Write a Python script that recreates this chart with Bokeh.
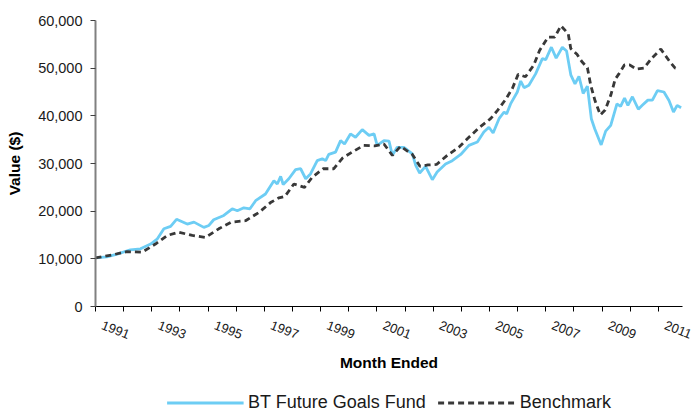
from bokeh.plotting import figure
from bokeh.layouts import column
from bokeh.models import (Range1d, FixedTicker, NumeralTickFormatter, Legend, LegendItem,
                          LinearAxis)
from bokeh.embed import file_html
from bokeh.resources import INLINE

# BT Future Goals Fund (year as decimal, value in $)
fund_year = [1991.00, 1991.40, 1991.77, 1992.24, 1992.60, 1992.96, 1993.20, 1993.43, 1993.67, 1993.88,
             1994.26, 1994.50, 1994.85, 1995.03, 1995.20, 1995.56, 1995.86, 1996.04, 1996.27, 1996.49,
             1996.69, 1997.04, 1997.34, 1997.46, 1997.58, 1997.67, 1997.87, 1998.11, 1998.29, 1998.47,
             1998.64, 1998.88, 1999.06, 1999.18, 1999.29, 1999.53, 1999.71, 1999.85, 2000.06, 2000.24,
             2000.48, 2000.72, 2000.90, 2001.01, 2001.25, 2001.43, 2001.55, 2001.72, 2001.96, 2002.26,
             2002.38, 2002.52, 2002.73, 2002.97, 2003.14, 2003.44, 2003.68, 2003.98, 2004.27, 2004.57,
             2004.80, 2004.98, 2005.13, 2005.34, 2005.52, 2005.61, 2005.75, 2005.99, 2006.11, 2006.23,
             2006.40, 2006.64, 2006.88, 2007.00, 2007.20, 2007.37, 2007.59, 2007.74, 2007.89, 2008.04,
             2008.18, 2008.33, 2008.48, 2008.62, 2008.74, 2008.97, 2009.13, 2009.31, 2009.53, 2009.66,
             2009.80, 2009.92, 2010.08, 2010.29, 2010.43, 2010.63, 2010.79, 2010.97, 2011.20, 2011.38,
             2011.54, 2011.67, 2011.81]
fund_value = [10200, 10400, 11000, 11900, 12100, 13100, 14200, 16300, 16800, 18300,
              17300, 17700, 16600, 17000, 18200, 19100, 20500, 20100, 20700, 20500,
              22200, 23600, 26400, 25700, 27300, 25600, 26800, 28700, 28900, 26800,
              27800, 30600, 31000, 30600, 31900, 32400, 34800, 34100, 36200, 35500,
              37100, 35900, 36200, 33800, 34800, 34700, 31700, 33400, 33400, 32000,
              29600, 28000, 29400, 26600, 28200, 29900, 30600, 31900, 33800, 34500,
              36600, 37600, 36400, 39400, 40800, 40400, 42500, 45000, 47300, 45900,
              46400, 48800, 52000, 51800, 54400, 52100, 54400, 53600, 48600, 46700,
              48300, 44700, 46200, 39400, 37300, 33900, 36800, 38000, 42500, 42000,
              43700, 42200, 44000, 41400, 42200, 43300, 43300, 45300, 45000, 43200,
              40800, 42200, 41700]

# Benchmark
bench_year = [1991.00, 1991.65, 1992.12, 1992.66, 1993.13, 1993.55, 1993.95, 1994.44, 1994.91, 1995.38,
              1995.82, 1996.33, 1996.80, 1997.22, 1997.52, 1997.73, 1998.05, 1998.43, 1998.70, 1999.09,
              1999.47, 1999.77, 2000.12, 2000.53, 2000.92, 2001.25, 2001.55, 2001.84, 2002.26, 2002.53,
              2002.81, 2003.12, 2003.50, 2003.91, 2004.27, 2004.63, 2005.04, 2005.28, 2005.57, 2005.81,
              2006.02, 2006.28, 2006.57, 2006.78, 2007.08, 2007.32, 2007.54, 2007.80, 2007.89, 2008.11,
              2008.28, 2008.48, 2008.60, 2008.75, 2008.94, 2009.11, 2009.31, 2009.47, 2009.60, 2009.80,
              2009.98, 2010.22, 2010.49, 2010.77, 2011.09, 2011.43, 2011.60, 2011.70]
bench_value = [10200, 10900, 11500, 11400, 13100, 14900, 15600, 14900, 14500, 16300,
               17700, 18000, 19700, 21800, 22800, 23100, 25700, 25000, 27100, 28900,
               28900, 31100, 32400, 33800, 33700, 34100, 31700, 33600, 31900, 29400,
               29700, 29800, 31700, 33400, 35500, 37500, 39400, 41100, 43400, 45700,
               48700, 48200, 50600, 53700, 56500, 56500, 58900, 57200, 54100, 52900,
               51400, 50100, 46400, 43200, 40200, 41200, 44300, 47700, 48800, 50700,
               50700, 49800, 50000, 52100, 54000, 51200, 50000, 49900]

year_ticks = list(range(1991, 2012))
label_years = list(range(1991, 2012, 2))
value_ticks = [0, 10000, 20000, 30000, 40000, 50000, 60000]
LABEL_SHIFT = 0.24  # labels start a little right of their tick

FONT = "Liberation Sans"
FUND_COLOR = "#6DCDF4"
BENCH_COLOR = "#383838"

p = figure(frame_width=587, frame_height=286, output_backend="svg", toolbar_location=None,
           x_range=Range1d(1991, 2011.86), y_range=Range1d(0, 60000),
           min_border_left=95, min_border_right=11, min_border_top=20, min_border_bottom=85)
p.outline_line_color = None
p.xgrid.visible = False
p.ygrid.visible = False

r_fund = p.line(fund_year, fund_value, line_color=FUND_COLOR, line_width=2.8)
r_bench = p.line(bench_year, bench_value, line_color=BENCH_COLOR, line_width=2.8, line_dash="6 4")

# x axis: tick marks only
xa = p.xaxis[0]
xa.ticker = FixedTicker(ticks=year_ticks)
xa.major_label_overrides = {y: "" for y in year_ticks}
xa.major_label_text_font_size = "1px"
xa.major_label_standoff = 0
xa.major_tick_in = 0
xa.major_tick_out = 5
xa.minor_tick_line_color = None
xa.axis_line_color = "#000000"
xa.axis_line_width = 1.2
xa.major_tick_line_color = "#000000"

# x axis labels (second axis, no line)
xl = LinearAxis(ticker=FixedTicker(ticks=[y + LABEL_SHIFT for y in label_years]),
                formatter=NumeralTickFormatter(format="0"))
xl.axis_line_color = None
xl.major_tick_line_color = None
xl.minor_tick_line_color = None
xl.major_tick_in = 0
xl.major_tick_out = 0
xl.major_label_orientation = -0.37
xl.major_label_text_font = FONT
xl.major_label_text_font_size = "13px"
xl.major_label_text_color = "#1a1a1a"
xl.major_label_standoff = 13
xl.axis_label = "Month Ended"
xl.axis_label_text_font = FONT
xl.axis_label_text_font_style = "bold"
xl.axis_label_text_font_size = "15.5px"
xl.axis_label_text_color = "#000000"
xl.axis_label_standoff = 8
p.add_layout(xl, "below")

# y axis
ya = p.yaxis[0]
ya.ticker = FixedTicker(ticks=value_ticks)
ya.formatter = NumeralTickFormatter(format="0,0")
ya.major_label_text_font = FONT
ya.major_label_text_font_size = "14.5px"
ya.major_label_text_color = "#1a1a1a"
ya.major_label_standoff = 8
ya.major_tick_in = 0
ya.major_tick_out = 5
ya.minor_tick_line_color = None
ya.axis_line_color = "#808080"
ya.axis_line_width = 2
ya.major_tick_line_color = "#404040"
ya.axis_label = "Value ($)"
ya.axis_label_text_font = FONT
ya.axis_label_text_font_style = "bold"
ya.axis_label_text_font_size = "15.5px"
ya.axis_label_text_color = "#000000"
ya.axis_label_standoff = 12

# legend strip below the chart
q = figure(width=693, height=22, output_backend="svg", toolbar_location=None,
           x_range=Range1d(0, 1), y_range=Range1d(0, 1),
           min_border_left=95, min_border_right=11, min_border_top=0, min_border_bottom=0)
q.axis.visible = False
q.grid.visible = False
q.outline_line_color = None
lf = q.line([5, 6], [5, 6], line_color=FUND_COLOR, line_width=2.8)
lb = q.line([5, 6], [5, 6], line_color=BENCH_COLOR, line_width=2.8, line_dash="6 4")
legend = Legend(items=[LegendItem(label="BT Future Goals Fund", renderers=[lf]),
                       LegendItem(label="Benchmark", renderers=[lb])],
                orientation="horizontal", location="center",
                glyph_width=77, glyph_height=20, label_standoff=5, spacing=12,
                padding=0, margin=0, border_line_color=None, background_fill_alpha=0,
                label_text_font=FONT, label_text_font_size="18px", label_text_color="#1a1a1a")
q.add_layout(legend, "center")

layout = column(p, q, spacing=0)
open("out.html", "w").write(file_html(layout, INLINE))
